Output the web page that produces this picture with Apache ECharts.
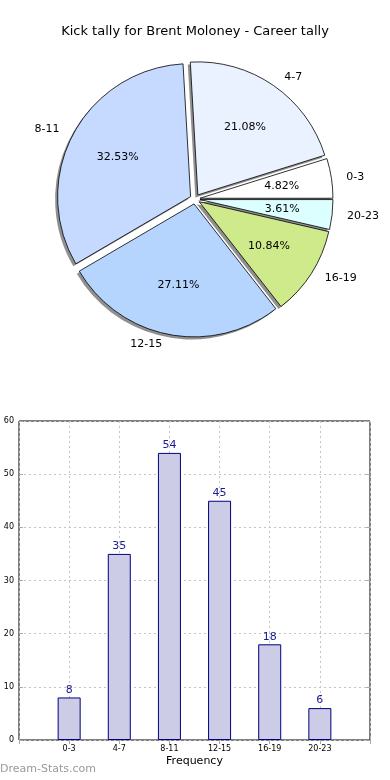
<!DOCTYPE html>
<html><head><meta charset="utf-8">
<script src="https://cdn.jsdelivr.net/npm/echarts@6/dist/echarts.min.js"></script>
<style>html,body{margin:0;padding:0;background:#fff}#c{width:390px;height:780px}</style>
</head><body><div id="c"></div>
<script>
const categories = ['0-3', '4-7', '8-11', '12-15', '16-19', '20-23'];
const counts = [8, 35, 54, 45, 18, 6];
const sliceColors = ['#ffffff', '#eaf1ff', '#c6d9ff', '#b5d5ff', '#cfea8a', '#dcffff'];
const yTicks = [0, 10, 20, 30, 40, 50, 60];

const total = counts.reduce((a, b) => a + b, 0);
const font = 'DejaVu Sans';
const pieCenter = [195, 199];
const R = 133;
const explode = 5;

function pieData(colorFn) {
  return categories.map((c, i) => ({ name: c, value: counts[i], selected: true, itemStyle: { color: colorFn(i) } }));
}
const padded = [''].concat(categories, ['']);
const barData = [null].concat(counts, [null]);

const chart = echarts.init(document.getElementById('c'), null, { renderer: 'canvas' });
const tickStyle = { show: true, inside: true, length: 4, lineStyle: { color: '#aaa' } };
const gridLine = { show: true, lineStyle: { color: '#c4c4c4', type: [2, 3], width: 1 } };
chart.setOption({
  animation: false,
  backgroundColor: '#fff',
  title: {
    text: 'Kick tally for Brent Moloney - Career tally', left: 'center', top: 20,
    textStyle: { fontFamily: font, fontSize: 13, fontWeight: 'normal', color: '#000' }
  },
  grid: { left: 19, right: 20, top: 421, bottom: 40, show: true, borderColor: '#000', borderWidth: 1 },
  xAxis: [{
    type: 'category', data: padded, boundaryGap: false, position: 'bottom',
    axisLine: { show: false }, axisTick: tickStyle,
    axisLabel: { fontFamily: font, fontSize: 8, color: '#000', margin: 5, interval: 0 },
    splitLine: gridLine,
    name: 'Frequency', nameLocation: 'middle', nameGap: 16,
    nameTextStyle: { fontFamily: font, fontSize: 11, color: '#000' }
  }, {
    type: 'category', data: padded, boundaryGap: false, position: 'top',
    axisLine: { show: false }, axisTick: tickStyle, axisLabel: { show: false }, splitLine: { show: false }
  }],
  yAxis: [{
    type: 'value', min: yTicks[0], max: yTicks[yTicks.length - 1], interval: yTicks[1] - yTicks[0],
    axisLine: { show: false }, axisTick: tickStyle,
    axisLabel: { fontFamily: font, fontSize: 8, color: '#000', margin: 5 },
    splitLine: gridLine
  }, {
    type: 'value', position: 'right', min: yTicks[0], max: yTicks[yTicks.length - 1], interval: yTicks[1] - yTicks[0],
    axisLine: { show: false }, axisTick: tickStyle, axisLabel: { show: false }, splitLine: { show: false }
  }],
  graphic: [{
    type: 'text', left: 0, top: 764,
    style: { text: 'Dream-Stats.com', fontFamily: font, fontSize: 11, fill: '#999' }
  }],
  series: [
    {
      type: 'pie', silent: true, center: [pieCenter[0] - 2.5, pieCenter[1] + 2.5], radius: R,
      startAngle: 0, clockwise: false, selectedMode: 'multiple', selectedOffset: explode,
      data: pieData(() => '#909090'), label: { show: false }, labelLine: { show: false },
      itemStyle: { borderWidth: 0 }, emphasis: { disabled: true }
    },
    {
      type: 'pie', silent: true, center: pieCenter, radius: R,
      startAngle: 0, clockwise: false, selectedMode: 'multiple', selectedOffset: explode,
      avoidLabelOverlap: false,
      data: pieData(i => sliceColors[i]),
      itemStyle: { borderColor: '#000', borderWidth: 0.8 },
      label: { show: true, position: 'outside', formatter: '{b}', fontFamily: font, fontSize: 11, color: '#000', distanceToLabelLine: 5 },
      labelLine: { show: false, length: 10, length2: 0 },
      emphasis: { disabled: true }
    },
    {
      type: 'pie', silent: true, center: pieCenter, radius: R * 1.2,
      startAngle: 0, clockwise: false, selectedMode: 'multiple', selectedOffset: explode,
      avoidLabelOverlap: false,
      data: pieData(() => 'rgba(0,0,0,0)'),
      itemStyle: { borderWidth: 0 },
      label: {
        show: true, position: 'inside', fontFamily: font, fontSize: 11, color: '#000',
        formatter: p => (p.value / total * 100).toFixed(2) + '%'
      },
      labelLine: { show: false },
      emphasis: { disabled: true }
    },
    {
      type: 'bar', xAxisIndex: 0, yAxisIndex: 0, data: barData, barWidth: 23,
      itemStyle: { color: '#ccccE6', borderColor: '#000080', borderWidth: 1 },
      label: { show: true, position: 'top', distance: 2, fontFamily: font, fontSize: 11, color: '#1a1a99' },
      emphasis: { disabled: true }
    }
  ]
});
</script></body></html>
